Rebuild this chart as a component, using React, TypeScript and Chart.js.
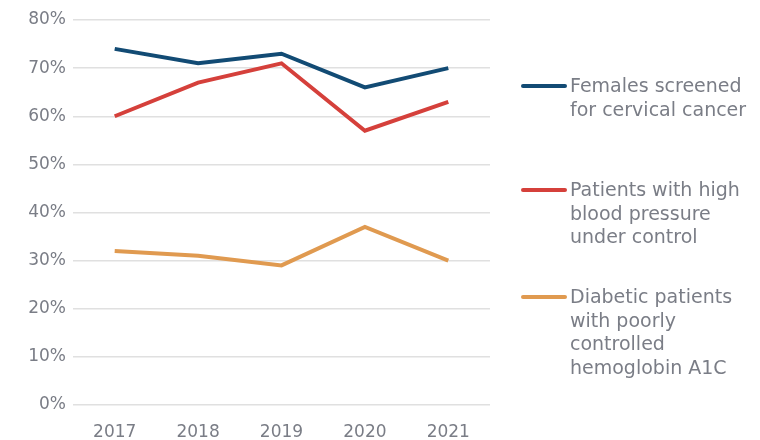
import React, { useEffect, useRef } from "react";
import { Chart, registerables } from "chart.js";

Chart.register(...registerables);

const years = ["2017", "2018", "2019", "2020", "2021"];
const cervical = [74, 71, 73, 66, 70];
const bloodPressure = [60, 67, 71, 57, 63];
const diabetic = [32, 31, 29, 37, 30];
const yTicks = [0, 10, 20, 30, 40, 50, 60, 70, 80];

const legendItems = [
  { lines: ["Females screened", "for cervical cancer"], color: "#124b74", top: 74 },
  { lines: ["Patients with high", "blood pressure", "under control"], color: "#d5403b", top: 178 },
  { lines: ["Diabetic patients", "with poorly", "controlled", "hemoglobin A1C"], color: "#e09a50", top: 285 },
];

const FONT = "'DejaVu Sans', sans-serif";
const TEXT = "#7a7d86";

export default function App() {
  const ref = useRef<HTMLCanvasElement>(null);
  useEffect(() => {
    document.body.style.margin = "0";
    const chart = new Chart(ref.current!, {
      type: "line",
      data: {
        labels: years,
        datasets: [
          { label: "Females screened for cervical cancer", data: cervical, borderColor: legendItems[0].color, borderWidth: 4, pointRadius: 0, tension: 0 },
          { label: "Patients with high blood pressure under control", data: bloodPressure, borderColor: legendItems[1].color, borderWidth: 4, pointRadius: 0, tension: 0 },
          { label: "Diabetic patients with poorly controlled hemoglobin A1C", data: diabetic, borderColor: legendItems[2].color, borderWidth: 4, pointRadius: 0, tension: 0 },
        ],
      },
      options: {
        responsive: false,
        animation: false,
        layout: { padding: { top: 20, right: 270, left: 0, bottom: 0 } },
        plugins: { legend: { display: false }, tooltip: { enabled: false } },
        scales: {
          x: {
            offset: true,
            grid: { display: false, drawTicks: false },
            border: { display: false },
            ticks: { color: TEXT, font: { family: FONT, size: 17 }, padding: 17 },
            afterFit: (s: any) => { s.height = 35; },
          },
          y: {
            min: 0,
            max: 80,
            afterBuildTicks: (s: any) => { s.ticks = yTicks.map((v) => ({ value: v })); },
            grid: { color: "#e0e0e0", lineWidth: 1.5, drawTicks: false },
            border: { display: false },
            ticks: { color: TEXT, font: { family: FONT, size: 17 }, padding: 7, callback: (v: any) => v + "%" },
            afterFit: (s: any) => { s.width = 73; },
          },
        },
      },
    });
    return () => chart.destroy();
  }, []);

  return (
    <div style={{ position: "absolute", left: 0, top: 0, width: 760, height: 440, background: "#fff" }}>
      <canvas ref={ref} width={760} height={440} style={{ display: "block" }} />
      {legendItems.map((it, i) => (
        <div key={i} style={{ position: "absolute", left: 521, top: it.top, display: "flex", alignItems: "flex-start" }}>
          <div style={{ width: 46, height: 4, borderRadius: 2, background: it.color, marginTop: 10, marginRight: 3 }} />
          <div style={{ fontFamily: FONT, fontSize: 19, lineHeight: "23.5px", color: TEXT, whiteSpace: "nowrap" }}>
            {it.lines.map((l, j) => (<div key={j}>{l}</div>))}
          </div>
        </div>
      ))}
    </div>
  );
}
